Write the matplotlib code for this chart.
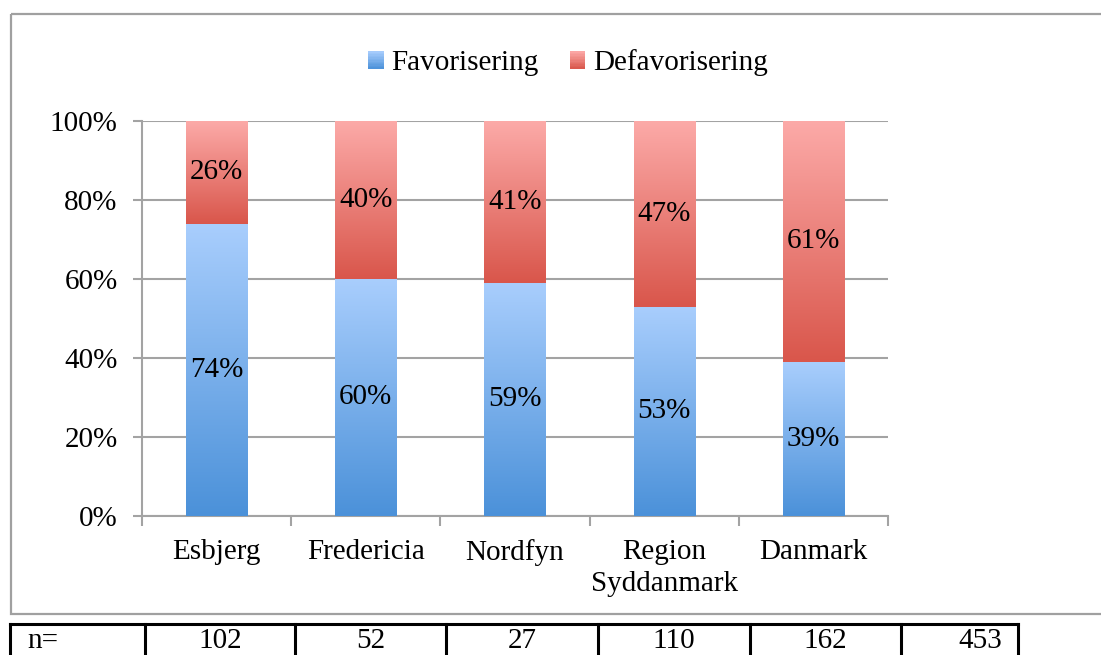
import numpy as np
import matplotlib
matplotlib.use("Agg")
import matplotlib.pyplot as plt
from matplotlib.patches import Rectangle
from matplotlib.legend_handler import HandlerBase
from matplotlib.colors import to_rgb

# ---- data ----
categories = ["Esbjerg", "Fredericia", "Nordfyn", "Region\nSyddanmark", "Danmark"]
favorisering = [74, 60, 59, 53, 39]
defavorisering = [26, 40, 41, 47, 61]
series_names = ["Favorisering", "Defavorisering"]
n_label = "n="
n_values = ["102", "52", "27", "110", "162", "453"]
yticks = [0, 20, 40, 60, 80, 100]

plt.rcParams['font.family'] = ['Liberation Serif', 'DejaVu Serif']

W, H = 1101, 655
fig = plt.figure(figsize=(W / 100, H / 100), dpi=100)

BLUE = (to_rgb("#4b91d9"), to_rgb("#a9cefd"))
RED = (to_rgb("#d9564b"), to_rgb("#fcaaa8"))
GRID = "#a3a3a3"
FS = 21

def px(x0, y0, x1, y1):
    return [x0 / W, 1 - y1 / H, (x1 - x0) / W, (y1 - y0) / H]

# overlay for border (pixel coordinates)
ov = fig.add_axes([0, 0, 1, 1], zorder=0)
ov.set_xlim(0, W)
ov.set_ylim(H, 0)
ov.axis("off")
ov.add_patch(Rectangle((11, 14), W + 20, 600, fill=False, edgecolor="#a0a0a0", lw=1.6))

ax = fig.add_axes(px(142, 121, 888, 516), zorder=2)
ax.patch.set_alpha(0)

x = np.arange(len(categories))
width = 0.41

def gradient_fill(ax, bars, cb, ct):
    t = np.linspace(0, 1, 256)[:, None]
    img = np.array(cb)[None, :] * (1 - t) + np.array(ct)[None, :] * t
    img = img[:, None, :]
    for r in bars:
        x0, y0, w, h = r.get_x(), r.get_y(), r.get_width(), r.get_height()
        im = ax.imshow(img, extent=[x0, x0 + w, y0, y0 + h], origin="lower",
                       aspect="auto", interpolation="bilinear", zorder=3)
        im.set_clip_path(r)

b1 = ax.bar(x, favorisering, width, color="none", edgecolor="none", zorder=3)
b2 = ax.bar(x, defavorisering, width, bottom=favorisering, color="none",
            edgecolor="none", zorder=3)
gradient_fill(ax, b1, *BLUE)
gradient_fill(ax, b2, *RED)

for i in range(len(categories)):
    ax.text(x[i], favorisering[i] / 2, f"{favorisering[i]}%", ha="center",
            va="center", fontsize=FS, zorder=5)
    ax.text(x[i], favorisering[i] + defavorisering[i] / 2, f"{defavorisering[i]}%",
            ha="center", va="center", fontsize=FS, zorder=5)

ax.set_xlim(-0.5, len(categories) - 0.5)
ax.set_ylim(0, 100)
ax.set_yticks(yticks)
ax.set_yticklabels([f"{v}%" for v in yticks], fontsize=FS)
ax.yaxis.grid(True, color=GRID, lw=1.5, zorder=1)
ax.set_axisbelow(True)

ax.set_xticks(np.arange(len(categories) + 1) - 0.5)
ax.set_xticklabels([])
ax.set_xticks(x, minor=True)
ax.set_xticklabels(categories, minor=True, fontsize=FS, linespacing=1.3)
ax.tick_params(axis="x", which="minor", length=0, pad=16.5)
ax.tick_params(axis="x", which="major", length=7, width=1.5, color=GRID, direction="out")
ax.tick_params(axis="y", length=6.5, width=1.5, color=GRID, pad=11)

for s in ["top", "right"]:
    ax.spines[s].set_visible(False)
for s in ["left", "bottom"]:
    ax.spines[s].set_color(GRID)
    ax.spines[s].set_linewidth(1.5)

# legend with gradient squares
class GradHandler(HandlerBase):
    def __init__(self, cb, ct):
        super().__init__()
        self.cb, self.ct = np.array(cb), np.array(ct)
    def create_artists(self, legend, orig_handle, xdescent, ydescent, width,
                       height, fontsize, trans):
        arts = []
        n = 12
        for k in range(n):
            t = (k + 0.5) / n
            c = self.cb * (1 - t) + self.ct * t
            r = Rectangle((-xdescent, -ydescent + k * height / n), width,
                          height / n + 0.3, facecolor=c, edgecolor="none",
                          transform=trans)
            arts.append(r)
        return arts

h1 = Rectangle((0, 0), 1, 1)
h2 = Rectangle((0, 0), 1, 1)
fig.legend([h1, h2], series_names, loc="center",
           bbox_to_anchor=(568 / W, 1 - 63 / H), ncol=2, frameon=False,
           fontsize=FS, handlelength=0.52, handleheight=0.52,
           handletextpad=0.25, columnspacing=1.1,
           handler_map={h1: GradHandler(*BLUE), h2: GradHandler(*RED)})

# table at bottom
tb = fig.add_axes([0, 0, 1, 1], zorder=3)
tb.set_xlim(0, W)
tb.set_ylim(H, 0)
tb.axis("off")
edges = [10, 145, 295, 446, 598, 750, 901, 1018]
top = 624
tb.plot([edges[0], edges[-1]], [top, top], color="black", lw=2.2,
        solid_capstyle="projecting")
for e in edges:
    tb.plot([e, e], [top, H + 5], color="black", lw=2.2)
tb.text(27, 654.5, n_label, ha="left", va="bottom", fontsize=21)
centers = [(edges[i] + edges[i + 1]) / 2 for i in range(1, len(edges) - 1)]
centers[-1] = 980
for c, v in zip(centers, n_values):
    tb.text(c, 654.5, v, ha="center", va="bottom", fontsize=21)

fig.savefig("out.png", dpi=100)
